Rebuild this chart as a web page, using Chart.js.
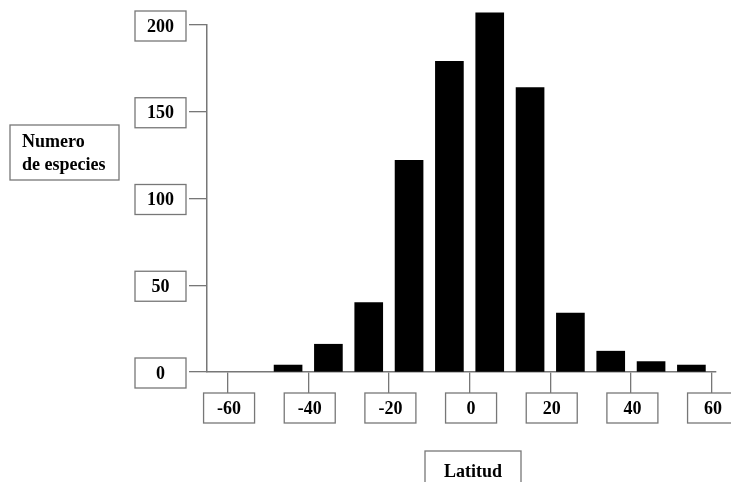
<!DOCTYPE html>
<html>
<head>
<meta charset="utf-8">
<script src="https://cdn.jsdelivr.net/npm/chart.js@4"></script>
<style>
  html, body { margin: 0; padding: 0; background: #fff; }
</style>
</head>
<body>
<canvas id="chart" width="731" height="482"></canvas>
<script>
// species count per 10-degree latitude band (band centres)
const latitudes = [-45, -35, -25, -15, -5, 5, 15, 25, 35, 45, 55];
const species = [4, 16, 40, 122, 179, 207, 164, 34, 12, 6, 4];
const xTicks = [-60, -40, -20, 0, 20, 40, 60];
const yTicks = [0, 50, 100, 150, 200];
const yTitle = ['Numero', 'de especies'];
const xTitle = 'Latitud';

const lineColor = '#777';
const labelFont = 'bold 18px "Liberation Serif", "Times New Roman", serif';

function drawBox(ctx, x, y, w, h, text) {
    ctx.fillStyle = '#fff';
    ctx.fillRect(x, y, w, h);
    ctx.strokeStyle = lineColor;
    ctx.lineWidth = 1.3;
    ctx.strokeRect(x, y, w, h);
    if (text !== undefined) {
        ctx.fillStyle = '#000';
        ctx.textAlign = 'center';
        ctx.textBaseline = 'middle';
        ctx.fillText(text, x + w / 2, y + h / 2 + 1);
    }
}

// boxed tick labels and axis titles, like the original figure
const labelBoxes = {
    id: 'labelBoxes',
    afterDraw(chart) {
        const ctx = chart.ctx;
        const xs = chart.scales.x;
        const ys = chart.scales.y;
        const area = chart.chartArea;
        ctx.save();
        ctx.font = labelFont;

        yTicks.forEach(v => {
            const py = ys.getPixelForValue(v);
            drawBox(ctx, area.left - 18 - 3 - 51, py - 14, 51, 30, String(v));
        });

        xTicks.forEach(v => {
            const px = xs.getPixelForValue(v);
            drawBox(ctx, px - 24, area.bottom + 21, 51, 30, String(v));
        });

        // y title
        drawBox(ctx, 10, 125, 109, 55);
        ctx.fillStyle = '#000';
        ctx.textAlign = 'left';
        ctx.textBaseline = 'middle';
        ctx.fillText(yTitle[0], 22, 142);
        ctx.fillText(yTitle[1], 22, 165);

        // x title
        drawBox(ctx, 425, 451, 96, 40, xTitle);
        ctx.restore();
    }
};

new Chart(document.getElementById('chart'), {
    type: 'bar',
    data: {
        datasets: [{
            data: latitudes.map((lat, i) => ({ x: lat, y: species[i] })),
            backgroundColor: '#000',
            borderWidth: 0,
            barThickness: 28,
            clip: false
        }]
    },
    options: {
        responsive: false,
        animation: false,
        devicePixelRatio: 1,
        layout: { padding: { left: 189, right: 15, top: 25, bottom: 89 } },
        plugins: {
            legend: { display: false },
            tooltip: { enabled: false }
        },
        scales: {
            x: {
                type: 'linear',
                min: -65.1,
                max: 61.1,
                offset: false,
                afterBuildTicks: scale => { scale.ticks = xTicks.map(v => ({ value: v })); },
                ticks: { display: false },
                grid: {
                    offset: false,
                    drawOnChartArea: false,
                    drawTicks: true,
                    tickLength: 21,
                    color: lineColor,
                    lineWidth: 1.3
                },
                border: { display: true, color: lineColor, width: 1.5 }
            },
            y: {
                min: 0,
                max: 200,
                afterBuildTicks: scale => { scale.ticks = yTicks.map(v => ({ value: v })); },
                ticks: { display: false },
                grid: {
                    drawOnChartArea: false,
                    drawTicks: true,
                    tickLength: 18,
                    color: lineColor,
                    lineWidth: 1.3
                },
                border: { display: true, color: lineColor, width: 1.5 }
            }
        }
    },
    plugins: [labelBoxes]
});
</script>
</body>
</html>
